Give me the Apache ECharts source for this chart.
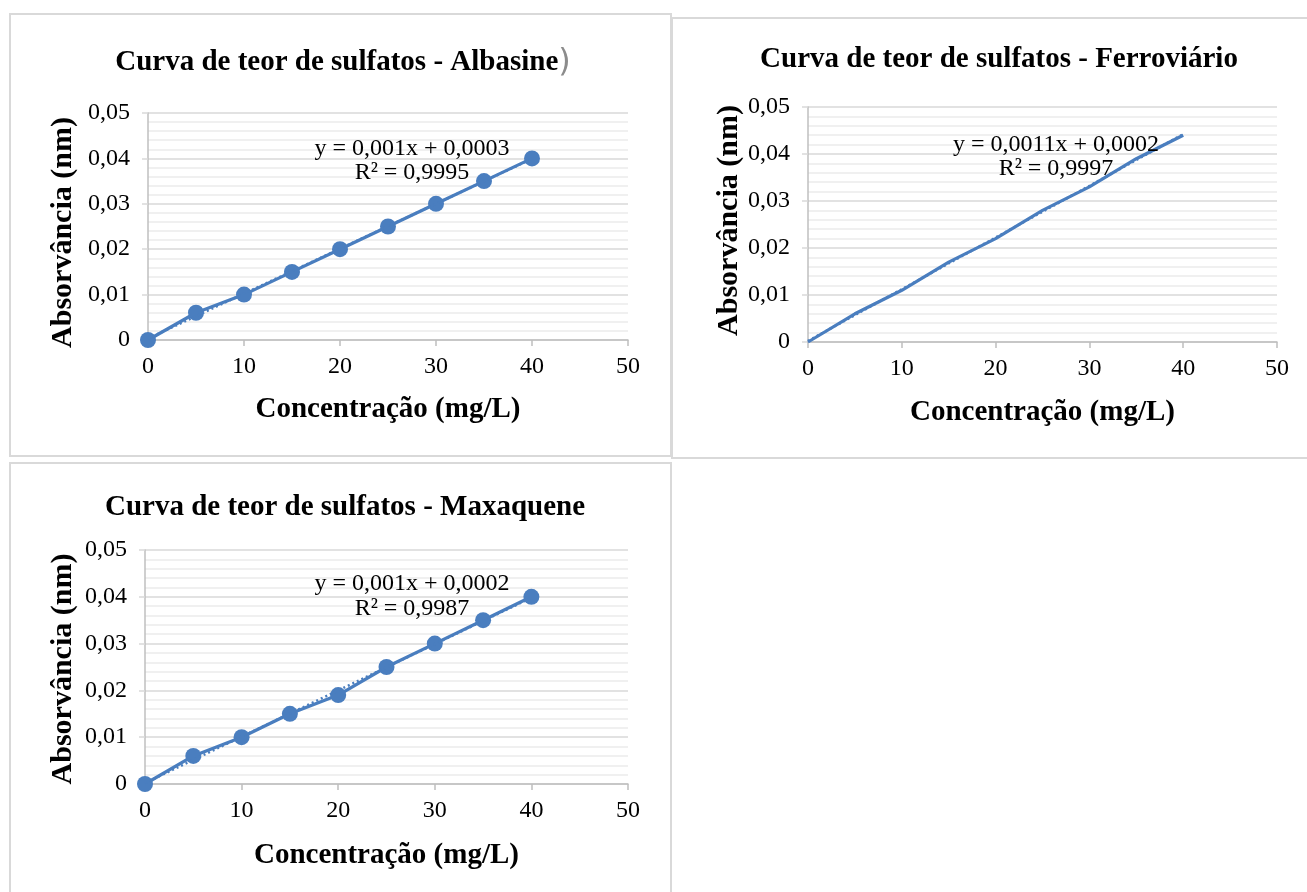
<!DOCTYPE html>
<html>
<head>
<meta charset="utf-8">
<script src="https://cdn.jsdelivr.net/npm/echarts@6/dist/echarts.min.js"></script>
<style>
html,body{margin:0;padding:0;background:#fff;}
#c{width:1307px;height:892px;}
</style>
</head>
<body>
<div id="c"></div>
<script>
// ---- Data ----
var concentracao = [0, 5, 10, 15, 20, 25, 30, 35, 40];
var absAlbasine = [0, 0.006, 0.010, 0.015, 0.020, 0.025, 0.030, 0.035, 0.040];
var absFerroviario = [0, 0.006, 0.011, 0.017, 0.022, 0.028, 0.033, 0.039, 0.044];
var absMaxaquene = [0, 0.006, 0.010, 0.015, 0.019, 0.025, 0.030, 0.035, 0.040];
var titles = [
  'Curva de teor de sulfatos - Albasine',
  'Curva de teor de sulfatos - Ferroviário',
  'Curva de teor de sulfatos - Maxaquene'
];
var equations = ['y = 0,001x + 0,0003', 'y = 0,0011x + 0,0002', 'y = 0,001x + 0,0002'];
var r2Labels = ['R² = 0,9995', 'R² = 0,9997', 'R² = 0,9987'];
var xAxisName = 'Concentração (mg/L)';
var yAxisName = 'Absorvância (nm)';

var BLUE = '#4a7ebf';
var SERIF = "'Liberation Serif', 'Times New Roman', serif";

function pairs(xs, ys) { return xs.map(function (x, i) { return [x, ys[i]]; }); }
function trend(xs, ys) {
  var n = xs.length, sx = 0, sy = 0, sxx = 0, sxy = 0;
  for (var i = 0; i < n; i++) { sx += xs[i]; sy += ys[i]; sxx += xs[i] * xs[i]; sxy += xs[i] * ys[i]; }
  var m = (n * sxy - sx * sy) / (n * sxx - sx * sx);
  var b = (sy - m * sx) / n;
  var x0 = xs[0], x1 = xs[n - 1];
  return [[x0, m * x0 + b], [x1, m * x1 + b]];
}

var grids = [
  {left: 148, top: 113, width: 480, height: 227},
  {left: 808, top: 107, width: 469, height: 235},
  {left: 145, top: 550, width: 483, height: 234}
];
var xNameGap = [55, 56, 57];
var yNameGap = [70, 64, 67];
var yNamePad = [[0, 12, 0, 0], [0, 0, 0, 8], [0, 4, 0, 0]];

var xAxes = grids.map(function (g, i) {
  return {
    type: 'value', gridIndex: i, min: 0, max: 50, interval: 10,
    name: xAxisName, nameLocation: 'middle', nameGap: xNameGap[i],
    nameTextStyle: {fontFamily: SERIF, fontWeight: 'bold', fontSize: 29, color: '#000'},
    axisLine: {show: true, lineStyle: {color: '#bfbfbf', width: 1.5}},
    axisTick: {show: true, length: 6, lineStyle: {color: '#bfbfbf', width: 1.5}},
    axisLabel: {fontFamily: SERIF, fontSize: 24, color: '#000', margin: 15},
    splitLine: {show: false}
  };
});
var yAxes = grids.map(function (g, i) {
  return {
    type: 'value', gridIndex: i, min: 0, max: 0.05, interval: 0.01,
    name: yAxisName, nameLocation: 'middle', nameGap: yNameGap[i],
    nameTextStyle: {fontFamily: SERIF, fontWeight: 'bold', fontSize: 30, color: '#000', padding: yNamePad[i]},
    axisLine: {show: true, lineStyle: {color: '#bfbfbf', width: 1.5}},
    axisTick: {show: true, length: 6, lineStyle: {color: '#d9d9d9', width: 1.5}},
    axisLabel: {fontFamily: SERIF, fontSize: 24, color: '#000', margin: 18,
      formatter: function (v) { return v === 0 ? '0' : v.toFixed(2).replace('.', ','); }},
    splitLine: {show: true, lineStyle: {color: '#d9d9d9', width: 1.5}},
    minorTick: {show: false, splitNumber: 5},
    minorSplitLine: {show: true, lineStyle: {color: '#ececec', width: 1.5}}
  };
});

var datasets = [absAlbasine, absFerroviario, absMaxaquene];
var showMarkers = [true, false, true];
var series = [];
datasets.forEach(function (ys, i) {
  series.push({
    type: 'line', xAxisIndex: i, yAxisIndex: i, data: pairs(concentracao, ys),
    showSymbol: showMarkers[i], symbol: 'circle', symbolSize: 16,
    itemStyle: {color: BLUE}, lineStyle: {color: BLUE, width: 3.2}, z: 3, animation: false
  });
  series.push({
    type: 'line', xAxisIndex: i, yAxisIndex: i, data: trend(concentracao, ys),
    showSymbol: false, lineStyle: {color: BLUE, width: 2.5, type: [2, 3]}, z: 4, animation: false
  });
});

var eqPos = [[412, 149, 173], [1056, 145, 169], [412, 584, 609]];
var graphics = [
  {type: 'rect', shape: {x: 10, y: 14, width: 661, height: 442}, style: {fill: 'none', stroke: '#d9d9d9', lineWidth: 2}, z: -10},
  {type: 'rect', shape: {x: 672, y: 18, width: 700, height: 440}, style: {fill: 'none', stroke: '#d9d9d9', lineWidth: 2}, z: -10},
  {type: 'rect', shape: {x: 10, y: 463, width: 661, height: 500}, style: {fill: 'none', stroke: '#d9d9d9', lineWidth: 2}, z: -10}
];
eqPos.forEach(function (p, i) {
  graphics.push({type: 'text', x: p[0], y: p[1], z: 10, style: {text: equations[i], font: '24px ' + SERIF, fill: '#000', textAlign: 'center', textVerticalAlign: 'middle'}});
  graphics.push({type: 'text', x: p[0], y: p[2], z: 10, style: {text: r2Labels[i], font: '24px ' + SERIF, fill: '#000', textAlign: 'center', textVerticalAlign: 'middle'}});
});

var titleStyle = {fontFamily: SERIF, fontWeight: 'bold', fontSize: 29, color: '#000', lineHeight: 32};
var option = {
  backgroundColor: '#fff',
  animation: false,
  title: [
    {text: '{a|' + titles[0] + '}{b|)}', left: 338, top: 42, textAlign: 'center',
      textStyle: {rich: {a: titleStyle, b: {fontFamily: "'DejaVu Sans'", fontWeight: 'normal', fontSize: 32, color: '#8c8c8c', lineHeight: 32}}}},
    {text: titles[1], left: 994, top: 39, textAlign: 'center', textStyle: titleStyle},
    {text: titles[2], left: 340, top: 487, textAlign: 'center', textStyle: titleStyle}
  ],
  grid: grids,
  xAxis: xAxes,
  yAxis: yAxes,
  series: series,
  graphic: graphics
};
var chart = echarts.init(document.getElementById('c'), null, {renderer: 'canvas'});
chart.setOption(option);
</script>
</body>
</html>
